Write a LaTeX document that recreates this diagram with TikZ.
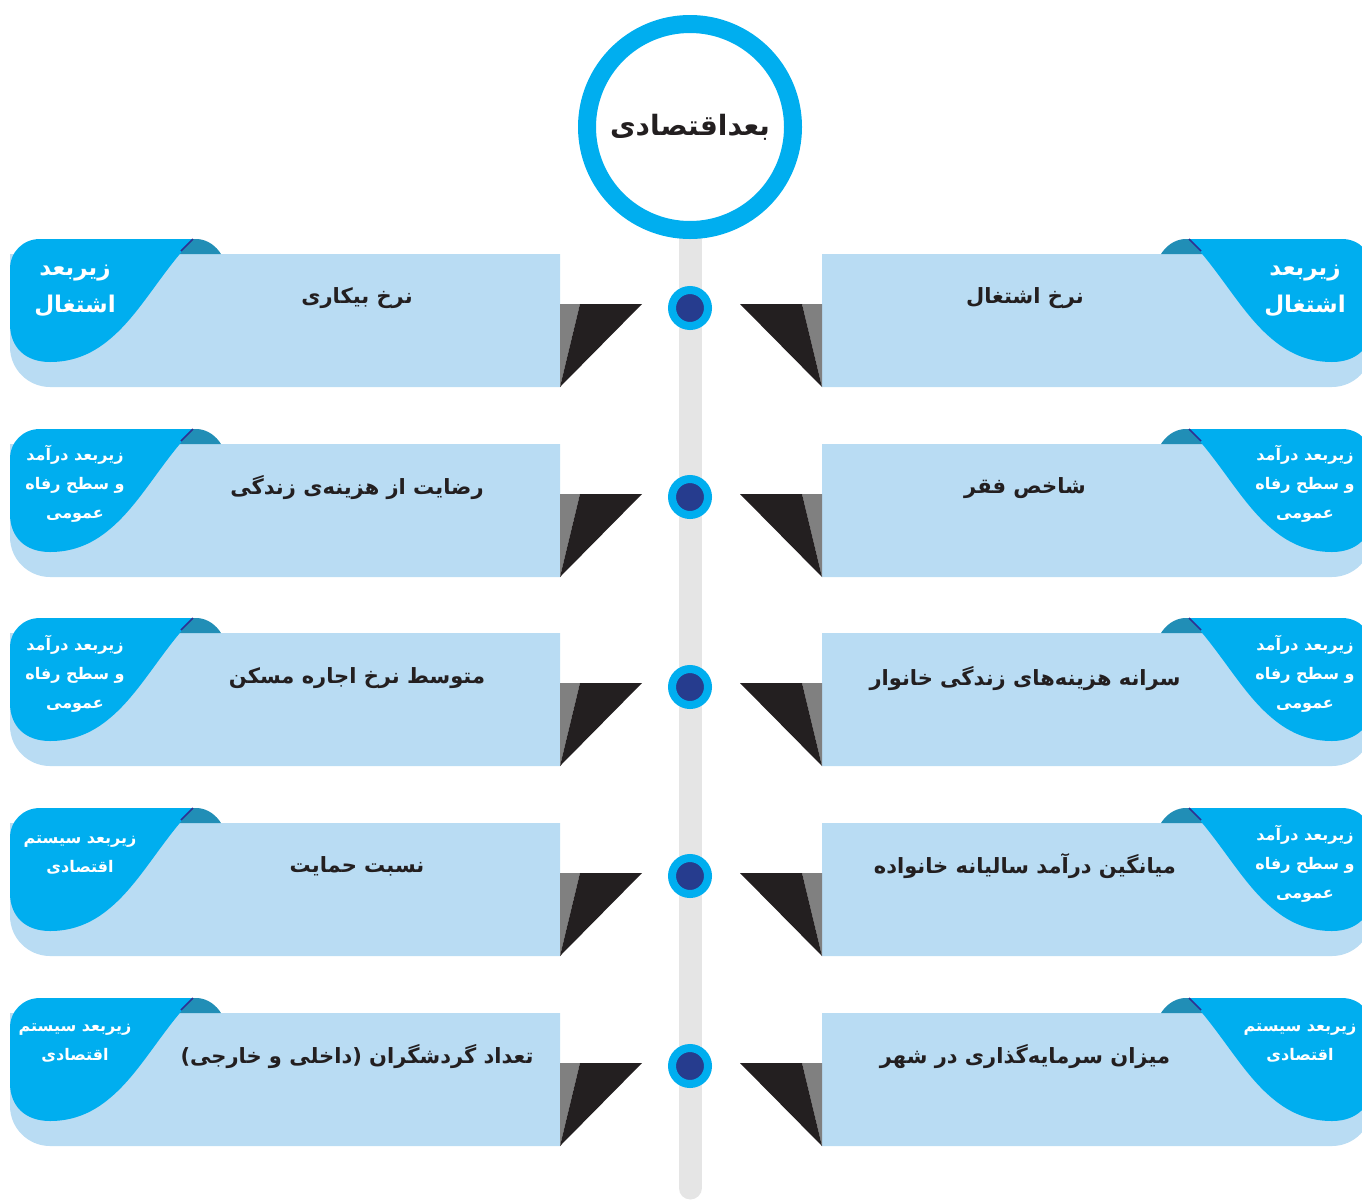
\documentclass[tikz,border=0pt]{standalone}
\usepackage{fontspec}
\usepackage{tikz}
\usetikzlibrary{backgrounds}
\newfontfamily\fafont[Script=Arabic]{DejaVu Sans}
\TeXXeTstate=1
\newcommand{\rtl}[1]{\beginR #1\endR}
\definecolor{cardblue}{RGB}{185,220,243}
\definecolor{tabcyan}{RGB}{0,174,239}
\definecolor{foldteal}{RGB}{33,142,182}
\definecolor{foldnavy}{RGB}{46,49,146}
\definecolor{dotnavy}{RGB}{38,60,142}
\definecolor{railgray}{RGB}{229,229,229}
\definecolor{inkblack}{RGB}{35,31,32}
\definecolor{flapgray}{RGB}{128,128,128}
\tikzstyle{hub} = [draw=tabcyan, circle, fill=white, line width=18pt, minimum size=206pt, inner sep=0pt, text=inkblack, font=\fafont\bfseries\fontsize{28}{34}\selectfont]
\tikzstyle{rowdot} = [draw=tabcyan, circle, fill=dotnavy, line width=8pt, minimum size=36pt, inner sep=0pt]
\tikzstyle{rail} = [draw=railgray, line width=23pt, line cap=round]
\tikzstyle{maintext} = [text=inkblack, font=\fafont\bfseries\fontsize{21}{28}\selectfont]
\tikzstyle{subbig} = [align=center, text=white, font=\fafont\bfseries\fontsize{23}{37}\selectfont]
\tikzstyle{subsmall} = [align=center, text=white, font=\fafont\bfseries\fontsize{16}{29}\selectfont]
\tikzset{
  card/.pic={
    \fill[cardblue] (10,15) -- (560,15) -- (560,148) -- (50,148) .. controls (28,148) and (10,130) .. (10,108) -- cycle;
    \fill[foldteal] (193,0) -- (198,0) .. controls (208,1) and (216,7) .. (221,15) -- (178,15) -- cycle;
    \fill[tabcyan] (10,30) .. controls (10,13) and (23,0) .. (40,0) -- (193,0) .. controls (160,35) and (140,75) .. (110,100) .. controls (90,117) and (70,123) .. (50,123) .. controls (25,123) and (10,108) .. (10,85) -- cycle;
    \draw[foldnavy, line width=1.5pt] (193,0) -- (181,12);
    \fill[flapgray] (560,65) -- (580,65) -- (560,148) -- cycle;
    \fill[inkblack] (580,65) -- (642,65) -- (560,148) -- cycle;
  }
}
\begin{document}
\begin{tikzpicture}[x=1pt, y=-1pt]
\useasboundingbox (0,0) rectangle (1362,1200);
\clip (0,0) rectangle (1362,1200);

% top
\node [hub] (hub) at (690,127) {\rtl{بعداقتصادی}};
\coordinate (railend) at (690,1188);

% cards
\pic at (0,239) {card};
\pic [xscale=-1] at (1382,239) {card};
\pic at (0,429) {card};
\pic [xscale=-1] at (1382,429) {card};
\pic at (0,618) {card};
\pic [xscale=-1] at (1382,618) {card};
\pic at (0,808) {card};
\pic [xscale=-1] at (1382,808) {card};
\pic at (0,998) {card};
\pic [xscale=-1] at (1382,998) {card};

% dots
\node [rowdot] (d1) at (690,308) {};
\node [rowdot] (d2) at (690,497) {};
\node [rowdot] (d3) at (690,687) {};
\node [rowdot] (d4) at (690,876) {};
\node [rowdot] (d5) at (690,1066) {};

% row 1
\node [maintext] (r1) at (1025,298) {\rtl{نرخ اشتغال}};
\node [subbig] (rs1) at (1305,291) {\rtl{زیربعد}\\\rtl{اشتغال}};
\node [maintext] (l1) at (357,298) {\rtl{نرخ بیکاری}};
\node [subbig] (ls1) at (75,291) {\rtl{زیربعد}\\\rtl{اشتغال}};

% row 2
\node [maintext] (r2) at (1025,488) {\rtl{شاخص فقر}};
\node [subsmall] (rs2) at (1305,484) {\rtl{زیربعد درآمد}\\\rtl{و سطح رفاه}\\\rtl{عمومی}};
\node [maintext] (l2) at (357,488) {\rtl{رضایت از هزینه‌ی زندگی}};
\node [subsmall] (ls2) at (75,484) {\rtl{زیربعد درآمد}\\\rtl{و سطح رفاه}\\\rtl{عمومی}};

% row 3
\node [maintext] (r3) at (1025,678) {\rtl{سرانه هزینه‌های زندگی خانوار}};
\node [subsmall] (rs3) at (1305,674) {\rtl{زیربعد درآمد}\\\rtl{و سطح رفاه}\\\rtl{عمومی}};
\node [maintext] (l3) at (357,678) {\rtl{متوسط نرخ اجاره مسکن}};
\node [subsmall] (ls3) at (75,674) {\rtl{زیربعد درآمد}\\\rtl{و سطح رفاه}\\\rtl{عمومی}};

% row 4
\node [maintext] (r4) at (1025,866) {\rtl{میانگین درآمد سالیانه خانواده}};
\node [subsmall] (rs4) at (1305,864) {\rtl{زیربعد درآمد}\\\rtl{و سطح رفاه}\\\rtl{عمومی}};
\node [maintext] (l4) at (357,866) {\rtl{نسبت حمایت}};
\node [subsmall] (ls4) at (80,855) {\rtl{زیربعد سیستم}\\\rtl{اقتصادی}};

% row 5
\node [maintext] (r5) at (1025,1056) {\rtl{میزان سرمایه‌گذاری در شهر}};
\node [subsmall] (rs5) at (1300,1043) {\rtl{زیربعد سیستم}\\\rtl{اقتصادی}};
\node [maintext] (l5) at (357,1056) {\rtl{تعداد گردشگران (داخلی و خارجی)}};
\node [subsmall] (ls5) at (75,1043) {\rtl{زیربعد سیستم}\\\rtl{اقتصادی}};

\begin{pgfonlayer}{background}
\draw [rail] (hub.center) -- (railend);
\end{pgfonlayer}
\end{tikzpicture}
\end{document}
